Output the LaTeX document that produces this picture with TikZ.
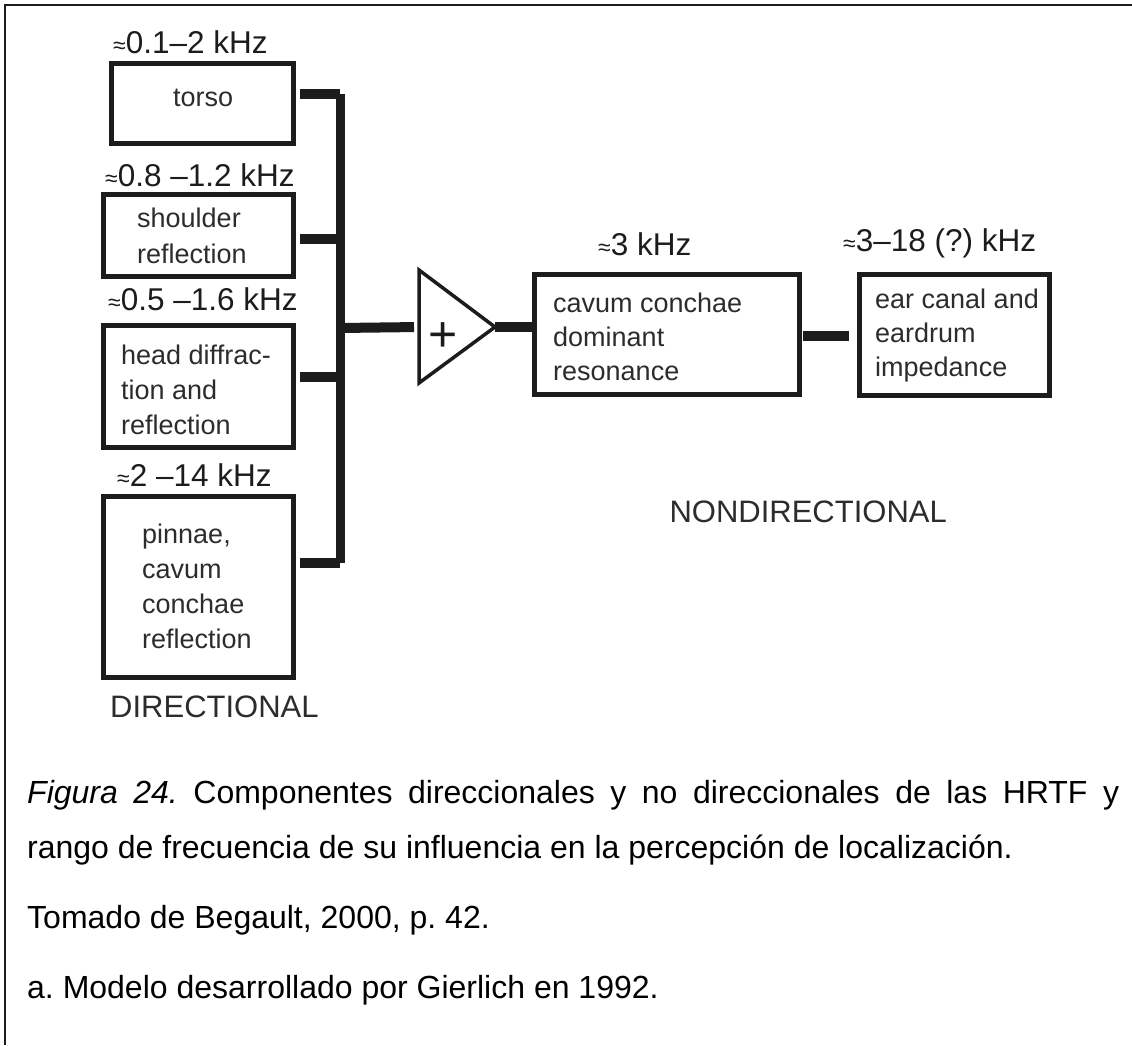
\documentclass[tikz,border=0pt]{standalone}
\usepackage{fontspec}
\setmainfont{Liberation Sans}
\frenchspacing
\definecolor{ink}{HTML}{1C1C1C}
\definecolor{soft}{HTML}{2C2C2C}
% small "approximately" sign set before each frequency range
\newcommand\apx{{\fontsize{23}{23}\selectfont ≈}}
% left-aligned stack of lines whose reference point is the first baseline
\newcommand\txtlines[2][35pt]{\vtop{\baselineskip=#1\halign{##\hfil\cr#2\crcr}}}
\begin{document}
\begin{tikzpicture}[x=1pt,y=-1pt,
  blk/.style={draw=ink, line width=5pt, inner sep=0pt, outer sep=0pt},
  wire/.style={draw=ink, line width=10pt, line cap=butt},
  bar/.style={draw=ink, line width=9pt, line cap=butt},
  tri/.style={draw=ink, line width=3.5pt, line join=miter},
  freq/.style={inner sep=0pt, anchor=base west, text=ink, font=\fontsize{31.5}{31.5}\selectfont},
  boxtxt/.style={inner sep=0pt, anchor=base west, text=soft, font=\fontsize{27}{35}\selectfont},
  group/.style={inner sep=0pt, text=soft, font=\fontsize{31}{31}\selectfont},
  captxt/.style={inner sep=0pt, anchor=base west, text=black, font=\fontsize{32}{32}\selectfont},
  frame/.style={draw=ink, line width=2pt}]
\useasboundingbox (0,0) rectangle (1132,1045);

% page frame (top and left rules)
\draw[frame] (1132,5) -- (5,5) -- (5,1045);

% directional blocks
\node[blk, minimum width=182pt, minimum height=80pt]  (torso) at (202.5,103.5) {};
\node[blk, minimum width=190pt, minimum height=82pt]  (shoulder) at (198.5,235.5) {};
\node[blk, minimum width=190pt, minimum height=122pt] (head) at (198.5,386.5) {};
\node[blk, minimum width=190pt, minimum height=181pt] (pinna) at (198.5,587) {};

\node[freq] (ftorso) at (113,53) {\apx0.1–2 kHz};
\node[freq] (fshoulder) at (105,186) {\apx0.8 –1.2 kHz};
\node[freq] (fhead) at (108,310) {\apx0.5 –1.6 kHz};
\node[freq] (fpinna) at (117,486) {\apx2 –14 kHz};

\node[boxtxt] (ttorso) at (173,106) {torso};
\node[boxtxt] (tshoulder) at (137,227) {\txtlines[36pt]{shoulder\cr reflection}};
\node[boxtxt] (thead) at (121,364) {\txtlines{head diffrac-\cr tion and\cr reflection}};
\node[boxtxt] (tpinna) at (142,543) {\txtlines{pinnae,\cr cavum\cr conchae\cr reflection}};

\node[group, anchor=base west] (dir) at (110,717) {DIRECTIONAL};

% junction points on the collecting bar
\coordinate (b1) at (340,94);
\coordinate (b2) at (340,239);
\coordinate (b0) at (340,328);
\coordinate (b3) at (340,377);
\coordinate (b4) at (340,563);

\draw[wire, shorten <=6.5pt] (torso.east |- b1) -- (b1);
\draw[wire, shorten <=6.5pt] (shoulder.east |- b2) -- (b2);
\draw[wire, shorten <=6.5pt] (head.east |- b3) -- (b3);
\draw[wire, shorten <=6.5pt] (pinna.east |- b4) -- (b4);
\draw[bar] (b1) -- (b4);

% summing amplifier
\coordinate (sumin) at (419,327);
\coordinate (sumout) at (495,327);
\draw[tri] (419,270) -- (sumout) -- (419,383) -- cycle;
\node[inner sep=0pt, text=ink, font=\fontsize{50}{50}\selectfont] (plus) at (443,337) {+};
\draw[wire, shorten >=5pt] (b0) -- (sumin);

% nondirectional blocks
\node[blk, minimum width=265pt, minimum height=120pt] (cavum) at (667,334.5) {};
\node[blk, minimum width=190pt, minimum height=121pt] (canal) at (954.5,335) {};

\node[freq] (fcavum) at (598,255) {\apx3 kHz};
\node[freq] (fcanal) at (843,251) {\apx3–18 (?) kHz};

\node[boxtxt] (tcavum) at (553,312) {\txtlines[34pt]{cavum conchae\cr dominant\cr resonance}};
\node[boxtxt] (tcanal) at (875,308) {\txtlines[34pt]{ear canal and\cr eardrum\cr impedance}};

\coordinate (c56) at (0,336);
\draw[wire] (sumout) -- (sumout -| cavum.west);
\draw[wire, shorten <=3.5pt, shorten >=10.5pt] (cavum.east |- c56) -- (canal.west |- c56);

\node[group, anchor=base east] (nondir) at (947,522) {NONDIRECTIONAL};

% caption
\node[captxt] (cap1) at (27,803) {\makebox[1092pt][s]{\textit{Figura 24.} Componentes direccionales y no direccionales de las HRTF y}};
\node[captxt] (cap2) at (27,858) {rango de frecuencia de su influencia en la percepción de localización.};
\node[captxt] (cap3) at (27,928) {Tomado de Begault, 2000, p. 42.};
\node[captxt] (cap4) at (27,998) {a. Modelo desarrollado por Gierlich en 1992.};
\end{tikzpicture}
\end{document}
